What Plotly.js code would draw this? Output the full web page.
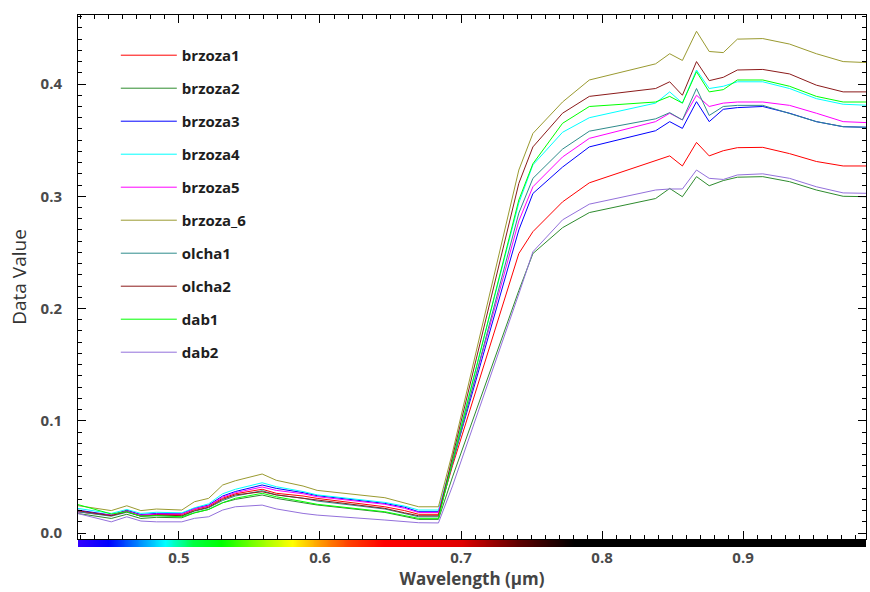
<!DOCTYPE html>
<html>
<head>
<meta charset="utf-8">
<script src="https://cdn.plot.ly/plotly-3.0.1.min.js"></script>
<style>html,body{margin:0;padding:0;background:#fff;}#chart{width:870px;height:592px;}</style>
</head>
<body>
<div id="chart"></div>
<script>
// Wavelengths (µm)
const wavelength = [0.428, 0.452, 0.463, 0.473, 0.484, 0.502, 0.511, 0.521, 0.531, 0.540, 0.559, 0.569, 0.588, 0.598, 0.646, 0.660, 0.670, 0.684,
                    0.694, 0.741, 0.751, 0.772, 0.791, 0.838, 0.848, 0.857, 0.867, 0.876, 0.886, 0.896, 0.914, 0.933, 0.952, 0.971, 0.990];

const seriesNames = ["brzoza1", "brzoza2", "brzoza3", "brzoza4", "brzoza5", "brzoza_6", "olcha1", "olcha2", "dab1", "dab2"];
const seriesColors = ["#ff0000", "#2e8b2e", "#0000ff", "#00ffff", "#ff00ff", "#9a9a30", "#2e8b8b", "#8b1a1a", "#00ff00", "#9370db"];

const brzoza1 = [0.019, 0.0155, 0.0205, 0.016, 0.0165, 0.0165, 0.021, 0.024, 0.031, 0.035, 0.039, 0.0354, 0.033, 0.0309, 0.0234, 0.020, 0.0167, 0.0167,
                 0.060, 0.249, 0.2685, 0.295, 0.312, 0.332, 0.336, 0.327, 0.348, 0.336, 0.3406, 0.3433, 0.3436, 0.338, 0.331, 0.327, 0.327];
const brzoza2 = [0.0175, 0.013, 0.0167, 0.013, 0.014, 0.0136, 0.018, 0.021, 0.027, 0.030, 0.0339, 0.0309, 0.027, 0.025, 0.0184, 0.015, 0.0122, 0.0122,
                 0.050, 0.216, 0.249, 0.272, 0.2855, 0.298, 0.307, 0.2996, 0.3175, 0.3094, 0.314, 0.317, 0.3175, 0.313, 0.3056, 0.300, 0.2996];
const brzoza3 = [0.0205, 0.016, 0.020, 0.0165, 0.0175, 0.0175, 0.022, 0.025, 0.033, 0.037, 0.0428, 0.0398, 0.036, 0.0333, 0.0264, 0.023, 0.019, 0.019,
                 0.063, 0.270, 0.3025, 0.326, 0.344, 0.3584, 0.3665, 0.3605, 0.3843, 0.3665, 0.3775, 0.379, 0.380, 0.374, 0.3665, 0.362, 0.3614];
const brzoza4 = [0.022, 0.0175, 0.021, 0.0175, 0.0185, 0.018, 0.0225, 0.026, 0.035, 0.039, 0.0448, 0.0413, 0.037, 0.034, 0.0273, 0.024, 0.0205, 0.0205,
                 0.066, 0.294, 0.328, 0.357, 0.370, 0.383, 0.393, 0.383, 0.4125, 0.396, 0.398, 0.402, 0.402, 0.396, 0.387, 0.382, 0.381];
const brzoza5 = [0.019, 0.016, 0.0195, 0.016, 0.017, 0.017, 0.0215, 0.0245, 0.032, 0.036, 0.041, 0.038, 0.035, 0.0324, 0.0256, 0.022, 0.0183, 0.0183,
                 0.064, 0.278, 0.3085, 0.335, 0.3516, 0.3665, 0.374, 0.368, 0.390, 0.380, 0.383, 0.384, 0.384, 0.381, 0.374, 0.3665, 0.3655];
const brzoza_6 = [0.0245, 0.020, 0.0243, 0.020, 0.0214, 0.0205, 0.0279, 0.0309, 0.0428, 0.0466, 0.0526, 0.0470, 0.0419, 0.0380, 0.0315, 0.0264, 0.0234, 0.0234,
                  0.072, 0.3234, 0.356, 0.384, 0.4036, 0.418, 0.427, 0.421, 0.447, 0.429, 0.428, 0.440, 0.4405, 0.4356, 0.427, 0.420, 0.419];
const olcha1 = [0.019, 0.015, 0.0185, 0.015, 0.0155, 0.015, 0.0195, 0.0225, 0.029, 0.033, 0.0377, 0.034, 0.031, 0.0285, 0.0214, 0.0175, 0.0145, 0.0145,
                0.062, 0.285, 0.316, 0.342, 0.358, 0.369, 0.3745, 0.368, 0.396, 0.372, 0.380, 0.381, 0.381, 0.374, 0.3665, 0.362, 0.3614];
const olcha2 = [0.020, 0.0155, 0.019, 0.015, 0.016, 0.0155, 0.020, 0.023, 0.030, 0.034, 0.0368, 0.034, 0.031, 0.0294, 0.022, 0.018, 0.0154, 0.0154,
                0.068, 0.3115, 0.344, 0.374, 0.389, 0.396, 0.402, 0.390, 0.420, 0.403, 0.406, 0.4125, 0.413, 0.409, 0.399, 0.393, 0.393];
const dab1 = [0.0255, 0.017, 0.019, 0.015, 0.0155, 0.0145, 0.018, 0.021, 0.027, 0.031, 0.0354, 0.0323, 0.028, 0.0256, 0.019, 0.0155, 0.0131, 0.0131,
              0.064, 0.2967, 0.329, 0.365, 0.380, 0.384, 0.389, 0.383, 0.411, 0.393, 0.395, 0.4036, 0.4036, 0.398, 0.389, 0.384, 0.384];
const dab2 = [0.0175, 0.010, 0.0145, 0.0107, 0.010, 0.010, 0.0131, 0.0145, 0.0205, 0.0234, 0.0249, 0.0215, 0.0175, 0.016, 0.0116, 0.010, 0.0092, 0.0090,
              0.042, 0.213, 0.2506, 0.279, 0.293, 0.3056, 0.3065, 0.3065, 0.3234, 0.316, 0.315, 0.319, 0.320, 0.316, 0.3085, 0.303, 0.3026];

const seriesValues = [brzoza1, brzoza2, brzoza3, brzoza4, brzoza5, brzoza_6, olcha1, olcha2, dab1, dab2];

// spectrum colour bar under the x axis
const spectrumStops = [0.428, 0.45, 0.47, 0.49, 0.51, 0.53, 0.56, 0.58, 0.60, 0.62, 0.645, 0.70, 0.74, 0.78, 0.99];
const spectrumColors = ["#3300ff", "#0000ff", "#0080ff", "#00ffff", "#00ff40", "#00ff00", "#a0ff00", "#ffff00", "#ff9900", "#ff4000", "#ff0000", "#e00000", "#600000", "#000000", "#000000"];

const xRange = [0.4284, 0.9872];
const yRange = [-0.0053, 0.4615];

const traces = seriesNames.map((name, i) => ({
  type: 'scatter', mode: 'lines', name: name,
  x: wavelength, y: seriesValues[i],
  line: {color: seriesColors[i], width: 1},
  legendgroup: 'g' + i,
  xaxis: 'x', yaxis: 'y'
}));

const barX = [];
for (let w = 0.426; w <= 0.992; w += 0.002) barX.push(+w.toFixed(3));
const sMin = spectrumStops[0], sMax = spectrumStops[spectrumStops.length - 1];
const colorscale = spectrumStops.map((s, i) => [(s - sMin) / (sMax - sMin), spectrumColors[i]]);
traces.push({
  type: 'heatmap', x: barX, y: [0, 1], z: [barX, barX],
  colorscale: colorscale, zmin: sMin, zmax: sMax, zsmooth: 'best',
  showscale: false, showlegend: false, hoverinfo: 'skip',
  xaxis: 'x2', yaxis: 'y2'
});

const tickFont = {family: 'Open Sans, sans-serif', size: 15, color: '#4a4a4a', weight: 'bold'};
const plotH = 592 - 15 - 45;

const layout = {
  width: 870, height: 592,
  margin: {l: 78, r: 4, t: 15, b: 45},
  paper_bgcolor: '#fff', plot_bgcolor: '#fff',
  showlegend: true,
  legend: {
    x: 0.048, y: 0.955, xanchor: 'left', yanchor: 'top',
    bgcolor: 'rgba(0,0,0,0)', borderwidth: 0,
    font: {family: 'Open Sans, sans-serif', size: 15, color: '#1e1e1e', weight: 'bold'},
    traceorder: 'grouped', tracegroupgap: 10.5, itemwidth: 56
  },
  xaxis: {
    range: xRange, anchor: 'y', domain: [0, 1],
    showline: true, linecolor: '#000', linewidth: 1, mirror: 'ticks',
    ticks: 'inside', ticklen: 8, tickcolor: '#000', dtick: 0.1, tick0: 0,
    minor: {dtick: 0.01, ticklen: 4, ticks: 'inside', tickcolor: '#000', showgrid: false},
    showticklabels: false, showgrid: false, zeroline: false
  },
  xaxis2: {
    range: xRange, matches: 'x', anchor: 'y2', domain: [0, 1],
    showline: false, ticks: '', dtick: 0.1, tick0: 0, tickformat: '.1f',
    tickfont: tickFont, showgrid: false, zeroline: false,
    title: {text: 'Wavelength (µm)', font: {family: 'Open Sans, sans-serif', size: 17, color: '#444', weight: 'bold'}, standoff: 3}
  },
  yaxis: {
    range: yRange, domain: [8 / plotH, 1], anchor: 'x',
    showline: true, linecolor: '#000', linewidth: 1, mirror: 'ticks',
    ticks: 'inside', ticklen: 8, tickcolor: '#000', dtick: 0.1, tick0: 0, tickformat: '.1f',
    minor: {dtick: 0.01, ticklen: 4, ticks: 'inside', tickcolor: '#000', showgrid: false},
    tickfont: tickFont, ticklabelstandoff: 12,
    showgrid: false, zeroline: false,
    title: {text: 'Data Value', font: {family: 'Open Sans, sans-serif', size: 19, color: '#333'}, standoff: 8}
  },
  yaxis2: {
    range: [-0.5, 1.5], domain: [0, 7 / plotH], anchor: 'x2',
    showticklabels: false, ticks: '', showgrid: false, zeroline: false, showline: false, fixedrange: true
  }
};

Plotly.newPlot('chart', traces, layout, {displayModeBar: false, staticPlot: true});
</script>
</body>
</html>
